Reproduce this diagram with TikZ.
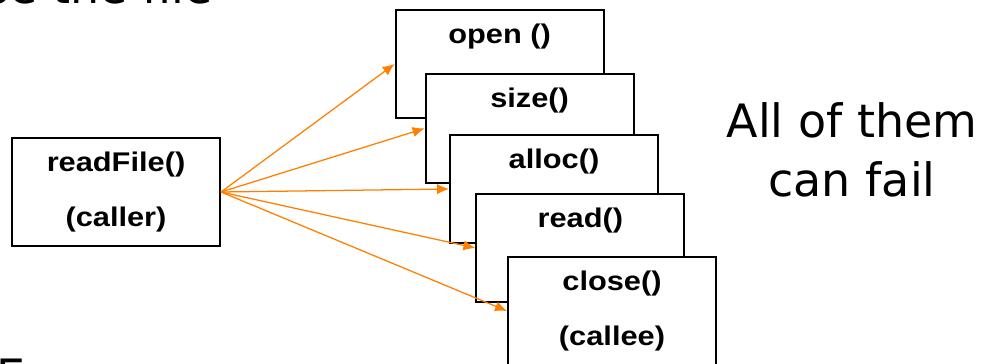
\documentclass[tikz,border=0pt]{standalone}
\usepackage{fontspec}
\setmainfont{DejaVu Sans}
\newfontfamily\cajafont[FakeStretch=1.14]{Liberation Sans}
\usetikzlibrary{arrows.meta}
\definecolor{naranja}{RGB}{255,128,0}
\tikzset{
  caja/.style={draw,line width=1.4pt,fill=white,minimum width=5.2cm,minimum height=2.72cm,
    inner sep=0pt,align=center,font=\cajafont\bfseries\fontsize{19.2pt}{39.1pt}\selectfont},
  grande/.style={inner sep=0pt,font=\fontsize{32.7pt}{42pt}\selectfont},
  llamada/.style={naranja,line width=.9pt,-{Latex[length=3mm,width=2.6mm]}}
}
\begin{document}
\begin{tikzpicture}
			\useasboundingbox (0,0) rectangle (24.85,9.1);

			% texto de la diapositiva (cortado)
			\node[grande,anchor=base east] (titulo) at (5.325,9.02) {se the file};
			\node[grande,anchor=base west] (sig) at (-0.09,-0.72) {E};

			% cajas
			\node[caja] (caller) at (2.9,4.3) {readFile()\\(caller)};
			\node[caja] (open) at (12.49,7.5) {open ()\\\phantom{(callee)}};
			\node[caja] (size) at (13.24,5.89) {size()\\\phantom{(callee)}};
			\node[caja] (alloc) at (13.85,4.375) {alloc()\\\phantom{(callee)}};
			\node[caja] (read) at (14.51,2.9) {read()\\\phantom{(callee)}};
			\node[caja] (close) at (15.3,1.325) {close()\\(callee)};

			\node[grande,align=center] (nota) at (21.3,5.35) {All of them\\can fail};

			% flechas
			\foreach \n in {open,size,alloc,read,close}
				\draw[llamada] (caller.east) -- (\n.west);

\end{tikzpicture}
\end{document}
